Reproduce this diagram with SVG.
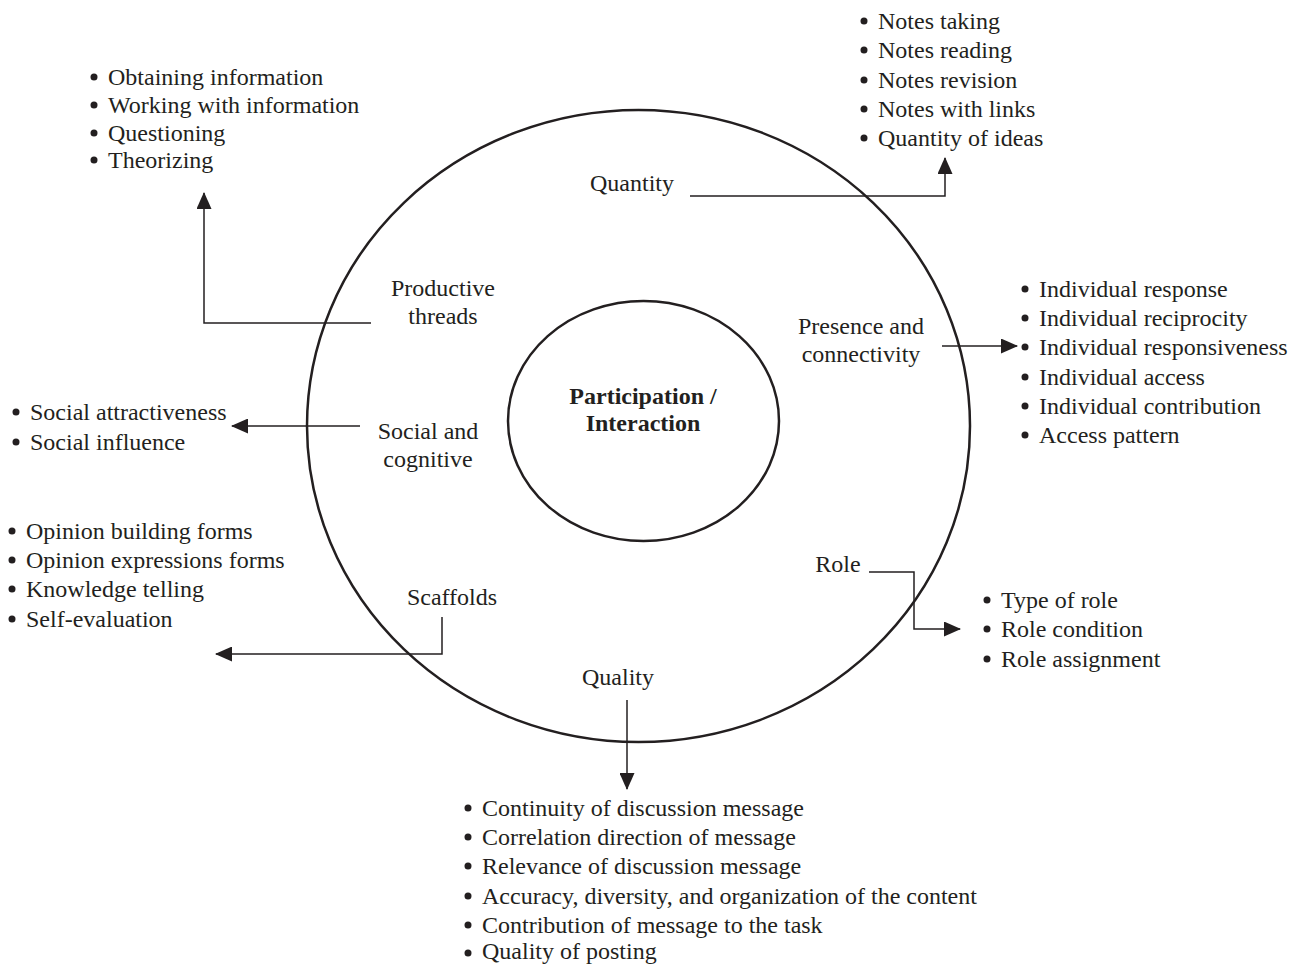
<svg xmlns="http://www.w3.org/2000/svg" width="1301" height="965" viewBox="0 0 1301 965">
<style>
text{font-family:"Liberation Serif","Times New Roman",serif;font-size:24px;fill:#231f20}
.c{text-anchor:middle}
.b{font-weight:bold}
.dot{fill:#231f20}
.ring{fill:none;stroke:#231f20;stroke-width:2.5}
.ln{fill:none;stroke:#231f20;stroke-width:1.5}
</style>
<defs>
<marker id="ah" viewBox="0 0 17 15" refX="16" refY="7.5" markerWidth="17" markerHeight="15" markerUnits="userSpaceOnUse" orient="auto">
<path d="M0,0 L17,7.5 L0,15 Z" fill="#231f20"/>
</marker>
</defs>
<rect width="1301" height="965" fill="#fff"/>
<g id="outer"><ellipse class="ring" cx="638.5" cy="426" rx="331.5" ry="316"/></g>
<g id="center"><ellipse class="ring" cx="643.5" cy="421" rx="135.5" ry="120"/>
<text class="c b" x="643" y="404">Participation /</text>
<text class="c b" x="643" y="431">Interaction</text></g>
<g id="connectors">
<path class="ln" d="M690,196 H945 V158" marker-end="url(#ah)"/>
<path class="ln" d="M371,323 H204 V193" marker-end="url(#ah)"/>
<path class="ln" d="M360,426 H232" marker-end="url(#ah)"/>
<path class="ln" d="M442,617 V654 H216" marker-end="url(#ah)"/>
<path class="ln" d="M869,572 H914 V629 H960" marker-end="url(#ah)"/>
<path class="ln" d="M942,346 H1017" marker-end="url(#ah)"/>
<path class="ln" d="M627,700 V789" marker-end="url(#ah)"/>
</g>
<g id="quantity"><text class="c" x="632" y="191">Quantity</text></g>
<g id="productive"><text class="c" x="443" y="296">Productive</text><text class="c" x="443" y="324">threads</text></g>
<g id="presence"><text class="c" x="861" y="334">Presence and</text><text class="c" x="861" y="362">connectivity</text></g>
<g id="social"><text class="c" x="428" y="439">Social and</text><text class="c" x="428" y="467">cognitive</text></g>
<g id="scaffolds"><text class="c" x="452" y="605">Scaffolds</text></g>
<g id="role"><text class="c" x="838" y="572">Role</text></g>
<g id="quality"><text class="c" x="618" y="685">Quality</text></g>
<g id="list-quantity">
<circle class="dot" cx="864" cy="21" r="3.5"/><text x="878" y="29">Notes taking</text>
<circle class="dot" cx="864" cy="50" r="3.5"/><text x="878" y="58">Notes reading</text>
<circle class="dot" cx="864" cy="80" r="3.5"/><text x="878" y="88">Notes revision</text>
<circle class="dot" cx="864" cy="109" r="3.5"/><text x="878" y="117">Notes with links</text>
<circle class="dot" cx="864" cy="138" r="3.5"/><text x="878" y="146">Quantity of ideas</text>
</g>
<g id="list-productive">
<circle class="dot" cx="94" cy="77" r="3.5"/><text x="108" y="85">Obtaining information</text>
<circle class="dot" cx="94" cy="105" r="3.5"/><text x="108" y="113">Working with information</text>
<circle class="dot" cx="94" cy="133" r="3.5"/><text x="108" y="141">Questioning</text>
<circle class="dot" cx="94" cy="160" r="3.5"/><text x="108" y="168">Theorizing</text>
</g>
<g id="list-presence">
<circle class="dot" cx="1025" cy="289" r="3.5"/><text x="1039" y="297">Individual response</text>
<circle class="dot" cx="1025" cy="318" r="3.5"/><text x="1039" y="326">Individual reciprocity</text>
<circle class="dot" cx="1025" cy="347" r="3.5"/><text x="1039" y="355">Individual responsiveness</text>
<circle class="dot" cx="1025" cy="377" r="3.5"/><text x="1039" y="385">Individual access</text>
<circle class="dot" cx="1025" cy="406" r="3.5"/><text x="1039" y="414">Individual contribution</text>
<circle class="dot" cx="1025" cy="435" r="3.5"/><text x="1039" y="443">Access pattern</text>
</g>
<g id="list-social">
<circle class="dot" cx="16" cy="412" r="3.5"/><text x="30" y="420">Social attractiveness</text>
<circle class="dot" cx="16" cy="442" r="3.5"/><text x="30" y="450">Social influence</text>
</g>
<g id="list-scaffolds">
<circle class="dot" cx="12" cy="531" r="3.5"/><text x="26" y="539">Opinion building forms</text>
<circle class="dot" cx="12" cy="560" r="3.5"/><text x="26" y="568">Opinion expressions forms</text>
<circle class="dot" cx="12" cy="589" r="3.5"/><text x="26" y="597">Knowledge telling</text>
<circle class="dot" cx="12" cy="619" r="3.5"/><text x="26" y="627">Self-evaluation</text>
</g>
<g id="list-role">
<circle class="dot" cx="987" cy="600" r="3.5"/><text x="1001" y="608">Type of role</text>
<circle class="dot" cx="987" cy="629" r="3.5"/><text x="1001" y="637">Role condition</text>
<circle class="dot" cx="987" cy="659" r="3.5"/><text x="1001" y="667">Role assignment</text>
</g>
<g id="list-quality">
<circle class="dot" cx="468" cy="808" r="3.5"/><text x="482" y="816">Continuity of discussion message</text>
<circle class="dot" cx="468" cy="837" r="3.5"/><text x="482" y="845">Correlation direction of message</text>
<circle class="dot" cx="468" cy="866" r="3.5"/><text x="482" y="874">Relevance of discussion message</text>
<circle class="dot" cx="468" cy="896" r="3.5"/><text x="482" y="904">Accuracy, diversity, and organization of the content</text>
<circle class="dot" cx="468" cy="925" r="3.5"/><text x="482" y="933">Contribution of message to the task</text>
<circle class="dot" cx="468" cy="953" r="3.5"/><text x="482" y="959">Quality of posting</text>
</g>
</svg>
